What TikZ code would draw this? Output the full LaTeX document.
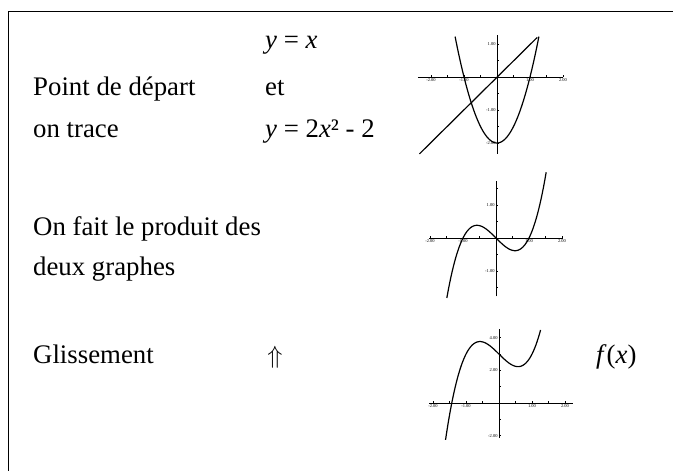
\documentclass[tikz,border=0pt]{standalone}
\usepackage{fontspec}
\setmainfont{Liberation Serif}
\usepackage{tikz}
\usetikzlibrary{positioning}

\begin{document}
\begin{tikzpicture}[x=1pt,y=-1pt,
  txt/.style={font=\fontsize{26.8}{32}\selectfont,inner sep=0pt,anchor=base west},
  axe/.style={line width=0.9pt},
  courbe/.style={line width=1.2pt,smooth,samples=80},
  graduation/.style={font=\fontsize{4.5}{5}\selectfont,inner sep=1.2pt}]
\useasboundingbox (0,0) rectangle (673,471);
\draw[line width=1pt] (8,471) -- (8,11) -- (673,11);

% textes
\node[txt] (yx) at (265,48) {\textit{y} = \textit{x}};
\node[txt] (depart) at (33,95) {Point de départ};
\node[txt] (et) at (265,95) {et};
\node[txt] (trace) at (33,137) {on trace};
\node[txt] (parab) at (265,137) {\textit{y} = 2\textit{x}² - 2};
\node[txt] (produit) at (33,235) {On fait le produit des};
\node[txt] (graphes) at (33,275) {deux graphes};
\node[txt] (gliss) at (33,363) {Glissement};
\node[txt,anchor=center] (fleche) at (275,357) {$\Uparrow$};
\node[txt] (fx) at (596,363) {\textit{f}(\textit{x})};

% graphe 1 : droite et parabole
\begin{scope}[shift={(497,77)},x=33pt,y=33pt]
\draw[axe] (-2.4,0) -- (2,0);
\draw[axe] (0,-2.32) -- (0,1.28);
\foreach \t in {-2,-1.5,...,2} \draw[axe] (\t,0) -- (\t,0.05);
\foreach \t in {-2,-1.5,...,1} \draw[axe] (0,\t) -- (0.05,\t);
\foreach \t/\l in {-2/-2.00,-1/-1.00,1/1.00,2/2.00} \node[graduation,below] at (\t,0) {\l};
\foreach \t/\l in {1/1.00,-1/-1.00,-2/-2.00} \node[graduation,left] at (0,\t) {\l};
\draw[courbe,domain=-1.27:1.27] plot (\x,{2*\x*\x-2});
\draw[courbe] (-2.35,-2.33) -- (1.22,1.2);
\end{scope}

% graphe 2 : produit
\begin{scope}[shift={(496,238)},x=33pt,y=33pt]
\draw[axe] (-2.03,0) -- (2.03,0);
\draw[axe] (0,-1.77) -- (0,1.74);
\foreach \t in {-2,-1.5,...,2} \draw[axe] (\t,0) -- (\t,0.05);
\foreach \t in {-1.5,-1,...,1.5} \draw[axe] (0,\t) -- (0.05,\t);
\foreach \t/\l in {-2/-2.00,-1/-1.00,1/1.00,2/2.00} \node[graduation,below] at (\t,0) {\l};
\foreach \t/\l in {1/1.00,-1/-1.00} \node[graduation,left] at (0,\t) {\l};
\draw[courbe,domain=-1.49:1.52] plot (\x,{\x*\x*\x-\x});
\end{scope}

% graphe 3 : glissement
\begin{scope}[shift={(499,403)},x=33pt,y=16.3pt]
\draw[axe] (-2.11,0) -- (2.24,0);
\draw[axe] (0,-2.15) -- (0,4.54);
\foreach \t in {-2,-1.5,...,2} \draw[axe] (\t,0) -- (\t,0.1);
\foreach \t in {-2,-1,...,4} \draw[axe] (0,\t) -- (0.05,\t);
\foreach \t/\l in {-2/-2.00,-1/-1.00,1/1.00,2/2.00} \node[graduation,below] at (\t,0) {\l};
\foreach \t/\l in {4/4.00,2/2.00,-2/-2.00} \node[graduation,left] at (0,\t) {\l};
\draw[courbe,domain=-1.62:1.26] plot (\x,{2*\x*\x*\x-2*\x+3});
\end{scope}
\end{tikzpicture}
\end{document}
